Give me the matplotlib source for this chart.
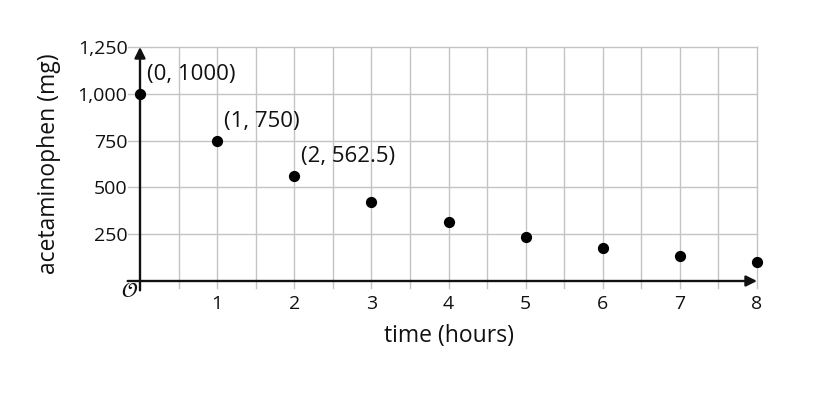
import matplotlib
matplotlib.use("Agg")
import matplotlib.pyplot as plt

plt.rcParams["font.family"] = ["Open Sans", "DejaVu Sans"]

hours = [0, 1, 2, 3, 4, 5, 6, 7, 8]
mg = [1000, 750, 562.5, 422, 316, 237, 178, 133, 100]
labels = {0: "(0, 1000)", 1: "(1, 750)", 2: "(2, 562.5)"}
yticks = [250, 500, 750, 1000, 1250]
ytick_labels = ["250", "500", "750", "1,000", "1,250"]
xticks = [1, 2, 3, 4, 5, 6, 7, 8]

fig = plt.figure(figsize=(8.26, 4.04), dpi=100)
ax = fig.add_axes([140 / 826, 123 / 404, 617 / 826, 234 / 404])
ax.set_xlim(0, 8)
ax.set_ylim(0, 1250)

grid = "#c4c4c4"
ink = "#111111"
for x in [i * 0.5 for i in range(1, 17)]:
    ax.plot([x, x], [-40, 1250], color=grid, lw=1, clip_on=False, zorder=1)
for y in yticks:
    ax.plot([-0.15, 8], [y, y], color=grid, lw=1, clip_on=False, zorder=1)

for s in ax.spines.values():
    s.set_visible(False)
ax.set_xticks(xticks)
ax.set_yticks(yticks)
ax.set_yticklabels(ytick_labels)
ax.tick_params(length=0, labelsize=14, colors=ink)
ax.tick_params(axis="x", pad=10)
ax.tick_params(axis="y", pad=9)

# axes arrows
ax.annotate("", xy=(8, 0), xytext=(-0.16, 0), annotation_clip=False,
            arrowprops=dict(arrowstyle="-|>", color=ink, lw=1.7,
                            mutation_scale=16, shrinkA=0, shrinkB=0))
ax.annotate("", xy=(0, 1250), xytext=(0, -50), annotation_clip=False,
            arrowprops=dict(arrowstyle="-|>", color=ink, lw=1.7,
                            mutation_scale=16, shrinkA=0, shrinkB=0))
ax.text(-0.02, -55, r"$\mathcal{O}$", fontsize=15, ha="right", va="center",
        color=ink)

ax.scatter(hours, mg, s=50, color="black", zorder=5, clip_on=False)
for i, txt in labels.items():
    ax.annotate(txt, (hours[i], mg[i]), xytext=(5, 14), textcoords="offset points",
                fontsize=16, va="center", ha="left", color=ink)

ax.set_xlabel("time (hours)", fontsize=16.5, color=ink, labelpad=8)
ax.set_ylabel("acetaminophen (mg)", fontsize=16.5, color=ink, labelpad=12)

fig.savefig("out.png", dpi=100)
